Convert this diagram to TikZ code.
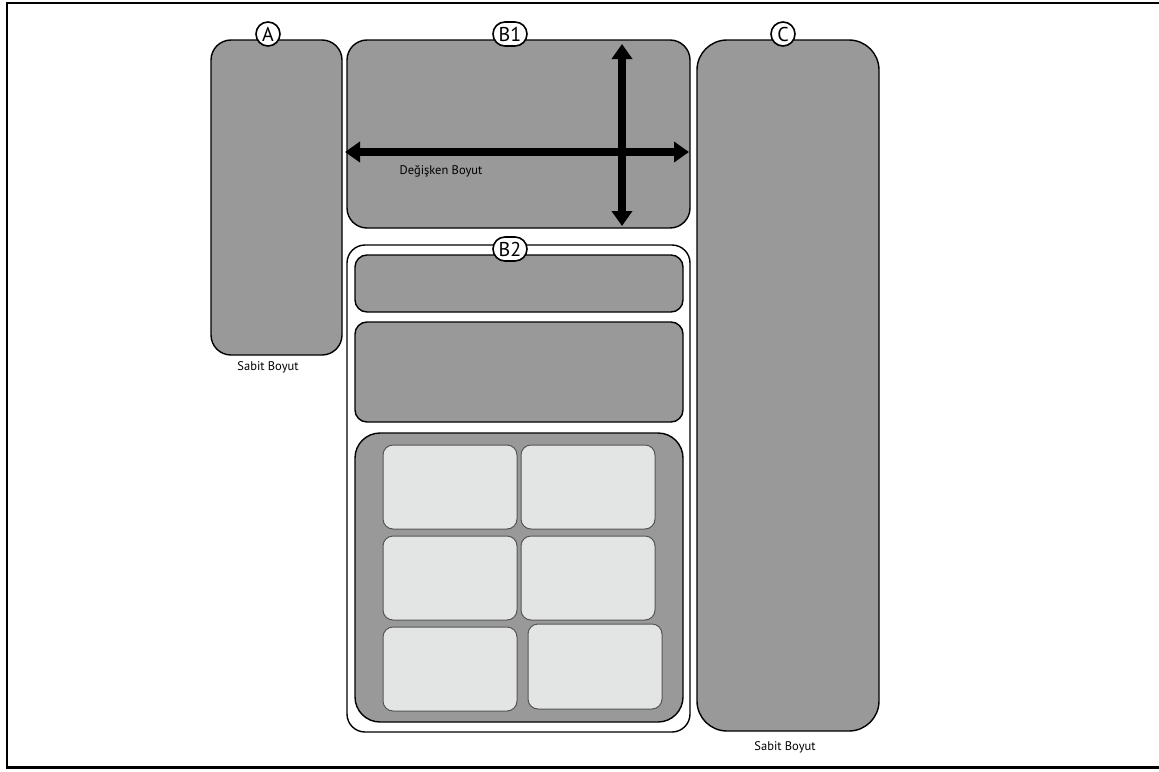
\documentclass[tikz,border=0pt]{standalone}
\usepackage{fontspec}
\setmainfont{PT Sans}
\usetikzlibrary{arrows.meta,shapes.misc}
\definecolor{boxgray}{HTML}{999999}
\definecolor{cellgray}{HTML}{E3E4E4}
\definecolor{celledge}{HTML}{555555}
\tikzset{
  panel/.style={draw=black, line width=1.4pt, fill=boxgray, rounded corners=#1, inner sep=0pt, outer sep=0pt},
  panel/.default=20pt,
  holder/.style={draw=black, line width=1.4pt, fill=white, rounded corners=18pt},
  cell/.style={draw=celledge, line width=1pt, fill=cellgray, rounded corners=10pt},
  tag/.style={draw=black, line width=1.6pt, fill=white, rounded rectangle, minimum height=24pt, inner xsep=2pt, inner ysep=0pt, font=\fontsize{20}{20}\selectfont},
  note/.style={font=\fontsize{12.5}{14}\selectfont, inner sep=0pt},
  bigarrow/.style={line width=8pt, {Triangle[width=20pt,length=15pt]}-{Triangle[width=20pt,length=15pt]}}
}
\begin{document}
\begin{tikzpicture}[x=1pt,y=-1pt]
\useasboundingbox (0,0) rectangle (1159,771);
% frame
\draw[line width=2.6pt] (1159,3) -- (7,3) -- (7,767.5) -- (1159,767.5);
% A
\draw[panel] (211,40) rectangle (342,355);
\node[tag, minimum width=28pt] (tA) at (268,34) {A};
\node[note] (sA) at (268,367) {Sabit Boyut};
% B1
\draw[panel] (347,40) rectangle (690,228);
\coordinate (hl) at (345,152);
\coordinate (hr) at (689,152);
\coordinate (vt) at (622,44);
\coordinate (vb) at (622,226);
\draw[bigarrow] (hl) -- (hr);
\draw[bigarrow] (vt) -- (vb);
\node[note] (dB) at (441,171) {Değişken Boyut};
\node[tag, minimum width=38pt] (tB1) at (510,34) {B1};
% B2
\draw[holder] (347,245) rectangle (690,732);
\draw[panel=12pt] (355,255) rectangle (683,312);
\draw[panel=12pt] (355,322) rectangle (683,422);
\draw[panel=25pt] (355,433) rectangle (683,722);
\draw[cell] (383,445) rectangle (517,529);
\draw[cell] (521,445) rectangle (655,529);
\draw[cell] (383,536) rectangle (517,620);
\draw[cell] (521,536) rectangle (655,620);
\draw[cell] (383,627) rectangle (517,711);
\draw[cell] (528,624) rectangle (662,709);
\node[tag, minimum width=38pt] (tB2) at (510,249) {B2};
% C
\draw[panel=30pt] (697,40) rectangle (879,731);
\node[tag, minimum width=25pt] (tC) at (783,34) {C};
\node[note] (sC) at (785,747) {Sabit Boyut};
\end{tikzpicture}
\end{document}
